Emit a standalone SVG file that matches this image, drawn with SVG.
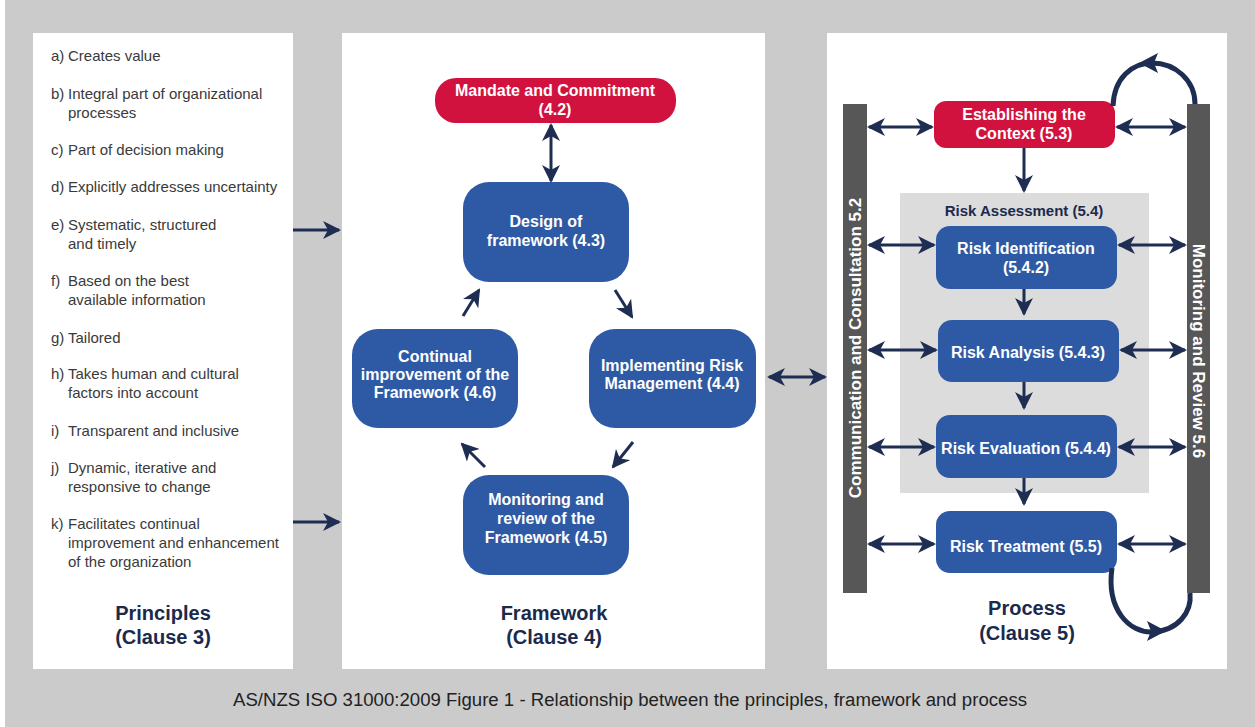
<svg xmlns="http://www.w3.org/2000/svg" width="1255" height="727" viewBox="0 0 1255 727">
<defs>
<style>
.panel{fill:#ffffff}
.blue{fill:#2e5aa5}
.red{fill:#d2123e}
.bt{font-family:"Liberation Sans",Arial,sans-serif;font-weight:bold;font-size:16px;fill:#ffffff;text-anchor:middle}
.li{font-family:"Liberation Sans",Arial,sans-serif;font-size:15px;fill:#3a3a3a}
.hd{font-family:"Liberation Sans",Arial,sans-serif;font-weight:bold;font-size:20px;fill:#1b2a4c;text-anchor:middle}
.bar{fill:#575757}
.vt{font-family:"Liberation Sans",Arial,sans-serif;font-weight:bold;font-size:17px;fill:#ffffff;text-anchor:middle;dominant-baseline:central}
.ar{stroke:#1e2d52;stroke-width:3;fill:none}
.a1{marker-end:url(#ah)}
.a2{marker-start:url(#ah);marker-end:url(#ah)}
.curve{stroke:#1e2d52;stroke-width:5;fill:none}
</style>
<marker id="ah" markerUnits="userSpaceOnUse" markerWidth="18" markerHeight="18" viewBox="0 0 18 18" refX="16" refY="9" orient="auto-start-reverse">
<path d="M0,0 L18,9 L0,18 L5,9 z" fill="#1e2d52"/>
</marker>
</defs>
<rect x="0" y="0" width="1255" height="727" fill="#ffffff"/>
<rect x="5" y="0" width="1250" height="727" fill="#cbcbcb"/>

<g id="principles">
<rect class="panel" x="33" y="33" width="260" height="636"/>
<text class="li" x="51" y="61">a)<tspan x="68">Creates value</tspan></text>
<text class="li" x="51" y="99">b)<tspan x="68">Integral part of organizational</tspan><tspan x="68" y="118">processes</tspan></text>
<text class="li" x="51" y="155">c)<tspan x="68">Part of decision making</tspan></text>
<text class="li" x="51" y="192">d)<tspan x="68">Explicitly addresses uncertainty</tspan></text>
<text class="li" x="51" y="230">e)<tspan x="68">Systematic, structured</tspan><tspan x="68" y="249">and timely</tspan></text>
<text class="li" x="51" y="286">f)<tspan x="68">Based on the best</tspan><tspan x="68" y="305">available information</tspan></text>
<text class="li" x="51" y="343">g)<tspan x="68">Tailored</tspan></text>
<text class="li" x="51" y="379">h)<tspan x="68">Takes human and cultural</tspan><tspan x="68" y="398">factors into account</tspan></text>
<text class="li" x="51" y="436">i)<tspan x="68">Transparent and inclusive</tspan></text>
<text class="li" x="51" y="473">j)<tspan x="68">Dynamic, iterative and</tspan><tspan x="68" y="492">responsive to change</tspan></text>
<text class="li" x="51" y="529">k)<tspan x="68">Facilitates continual</tspan><tspan x="68" y="548">improvement and enhancement</tspan><tspan x="68" y="567">of the organization</tspan></text>
<text class="hd" x="163" y="620">Principles</text>
<text class="hd" x="163" y="644">(Clause 3)</text>
</g>

<g id="framework">
<rect class="panel" x="342" y="33" width="423" height="636"/>
<text class="hd" x="554" y="620">Framework</text>
<text class="hd" x="554" y="644">(Clause 4)</text>
</g>

<g id="mandate">
<rect class="red" x="435" y="78" width="241" height="45" rx="21"/>
<text class="bt" x="555" y="96">Mandate and Commitment</text>
<text class="bt" x="555" y="115">(4.2)</text>
</g>
<g id="design">
<rect class="blue" x="463" y="182" width="166" height="100" rx="26"/>
<text class="bt" x="546" y="227">Design of</text>
<text class="bt" x="546" y="246">framework (4.3)</text>
</g>
<g id="continual">
<rect class="blue" x="352" y="329" width="166" height="99" rx="26"/>
<text class="bt" x="435" y="362">Continual</text>
<text class="bt" x="435" y="380">improvement of the</text>
<text class="bt" x="435" y="398">Framework (4.6)</text>
</g>
<g id="implementing">
<rect class="blue" x="589" y="329" width="167" height="99" rx="26"/>
<text class="bt" x="672" y="371">Implementing Risk</text>
<text class="bt" x="672" y="389">Management (4.4)</text>
</g>
<g id="monitoring-framework">
<rect class="blue" x="463" y="475" width="166" height="100" rx="26"/>
<text class="bt" x="546" y="505">Monitoring and</text>
<text class="bt" x="546" y="524">review of the</text>
<text class="bt" x="546" y="543">Framework (4.5)</text>
</g>

<g id="process">
<rect class="panel" x="827" y="33" width="400" height="636"/>
<rect x="900" y="193" width="249" height="300" fill="#dcdcdc"/>
<text class="bt" x="1024" y="216" style="fill:#1b2a4c;font-size:15px">Risk Assessment (5.4)</text>
<text class="hd" x="1027" y="615">Process</text>
<text class="hd" x="1027" y="640">(Clause 5)</text>
</g>
<g id="communication">
<rect class="bar" x="843" y="104" width="24" height="489"/>
<text class="vt" transform="translate(855,348) rotate(-90)">Communication and Consultation 5.2</text>
</g>
<g id="monitoring-review">
<rect class="bar" x="1187" y="104" width="23" height="489"/>
<text class="vt" transform="translate(1198,351) rotate(90)">Monitoring and Review 5.6</text>
</g>
<g id="context">
<rect class="red" x="934" y="101" width="181" height="47" rx="12"/>
<text class="bt" x="1024" y="120">Establishing the</text>
<text class="bt" x="1024" y="139">Context (5.3)</text>
</g>
<g id="identification">
<rect class="blue" x="936" y="226" width="181" height="63" rx="14"/>
<text class="bt" x="1026" y="254">Risk Identification</text>
<text class="bt" x="1026" y="273">(5.4.2)</text>
</g>
<g id="analysis">
<rect class="blue" x="938" y="320" width="181" height="62" rx="14"/>
<text class="bt" x="1028" y="358">Risk Analysis (5.4.3)</text>
</g>
<g id="evaluation">
<rect class="blue" x="936" y="415" width="181" height="63" rx="14"/>
<text class="bt" x="1026" y="454">Risk Evaluation (5.4.4)</text>
</g>
<g id="treatment">
<rect class="blue" x="936" y="511" width="181" height="62" rx="14"/>
<text class="bt" x="1026" y="552">Risk Treatment (5.5)</text>
</g>

<g id="connectors">
<line class="ar a1" x1="293" y1="230" x2="339" y2="230"/>
<line class="ar a1" x1="293" y1="522" x2="339" y2="522"/>
<line class="ar a2" x1="551" y1="125" x2="551" y2="181"/>
<line class="ar a1" x1="463" y1="316" x2="479" y2="290"/>
<line class="ar a1" x1="615" y1="290" x2="632" y2="317"/>
<line class="ar a1" x1="633" y1="442" x2="613" y2="467"/>
<line class="ar a1" x1="485" y1="467" x2="462" y2="444"/>
<line class="ar a2" x1="769" y1="377" x2="825" y2="377"/>

<line class="ar a2" x1="869" y1="127" x2="932" y2="127"/>
<line class="ar a2" x1="869" y1="245" x2="934" y2="245"/>
<line class="ar a2" x1="869" y1="350" x2="936" y2="350"/>
<line class="ar a2" x1="869" y1="447" x2="934" y2="447"/>
<line class="ar a2" x1="869" y1="544" x2="934" y2="544"/>

<line class="ar a2" x1="1117" y1="127" x2="1185" y2="127"/>
<line class="ar a2" x1="1119" y1="245" x2="1185" y2="245"/>
<line class="ar a2" x1="1121" y1="350" x2="1185" y2="350"/>
<line class="ar a2" x1="1119" y1="447" x2="1185" y2="447"/>
<line class="ar a2" x1="1119" y1="544" x2="1185" y2="544"/>

<line class="ar a1" x1="1024" y1="148" x2="1024" y2="191"/>
<line class="ar a1" x1="1024" y1="289" x2="1024" y2="314"/>
<line class="ar a1" x1="1024" y1="382" x2="1024" y2="408"/>
<line class="ar a1" x1="1024" y1="478" x2="1024" y2="504"/>

<path class="curve" d="M1113,106 C1114,78 1132,63 1152,63 C1175,63 1195,80 1195,104"/>
<polygon points="1139,63 1158,53 1154,63 1158,73" fill="#1e2d52"/>
<path class="curve" d="M1112,568 C1106,610 1130,633 1152,632 C1178,631 1192,612 1190,593"/>
<polygon points="1166,631 1147,621 1151,631 1147,641" fill="#1e2d52"/>
</g>

<text x="630" y="706" font-family="'Liberation Sans',Arial,sans-serif" font-size="18" fill="#222222" text-anchor="middle" textLength="794" lengthAdjust="spacingAndGlyphs">AS/NZS ISO 31000:2009 Figure 1 - Relationship between the principles, framework and process</text>
</svg>
